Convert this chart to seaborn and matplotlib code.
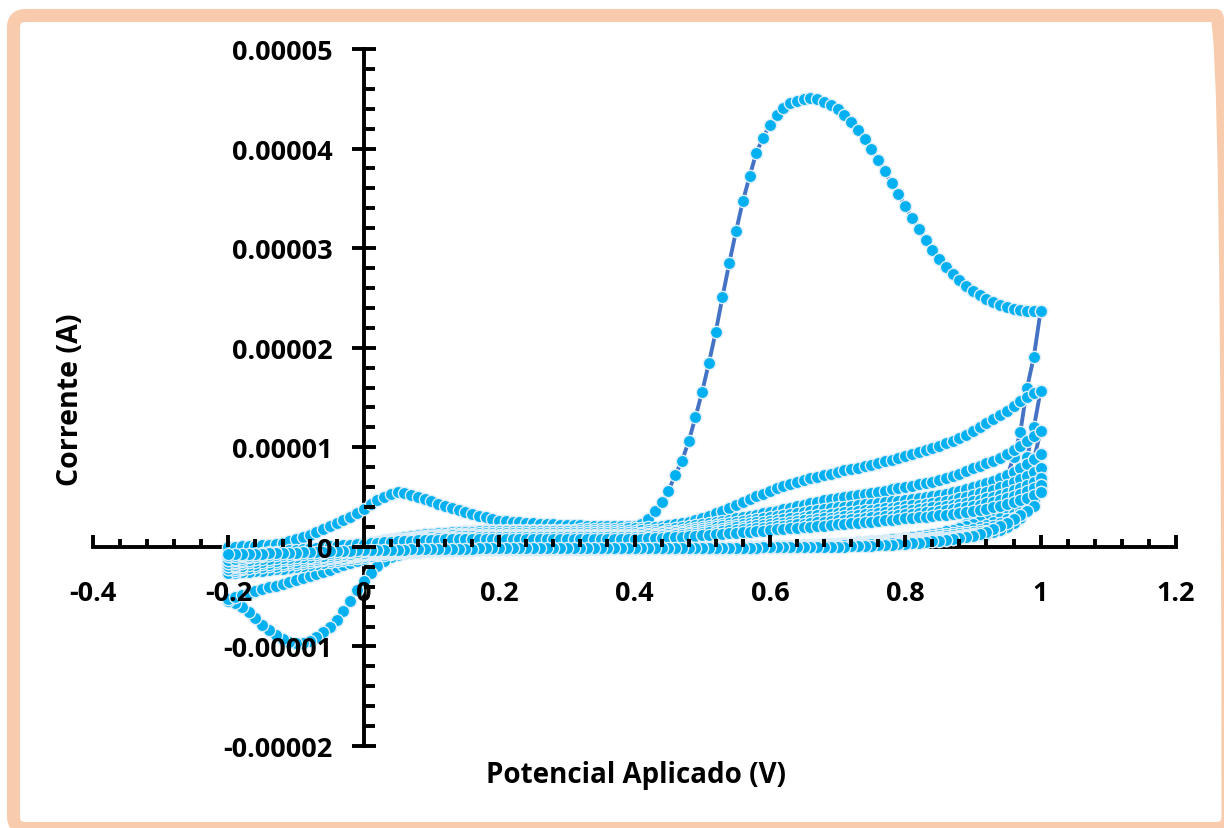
import numpy as np
import pandas as pd
import matplotlib
matplotlib.use("Agg")
import matplotlib.pyplot as plt
import seaborn as sns
from matplotlib.ticker import MultipleLocator, FuncFormatter
from matplotlib.patches import FancyBboxPatch
from matplotlib.transforms import IdentityTransform

# ---------------- data (potential sweep grid, V) ----------------
E_FORWARD = np.round(np.arange(121) * 0.01 - 0.20, 2)   # -0.20 ... 1.00 V, 10 mV steps
E_REVERSE = E_FORWARD[::-1]                              #  1.00 ... -0.20 V

# currents in microampere
F1 = [0.0, 0.0, 0.1, 0.1, 0.1, 0.2, 0.2, 0.3, 0.4, 0.6,
      0.8, 1.0, 1.2, 1.5, 1.8, 2.1, 2.4, 2.7, 3.0, 3.4,
      3.8, 4.3, 4.7, 5.0, 5.3, 5.5, 5.4, 5.2, 5.0, 4.8,
      4.6, 4.3, 4.1, 3.9, 3.7, 3.5, 3.3, 3.1, 3.0, 2.8,
      2.6, 2.6, 2.5, 2.5, 2.4, 2.4, 2.3, 2.3, 2.3, 2.2,
      2.2, 2.2, 2.2, 2.1, 2.1, 2.1, 2.1, 2.1, 2.1, 2.1,
      2.1, 2.3, 2.8, 3.6, 4.5, 5.6, 7.2, 8.6, 10.6, 13.0,
      15.6, 18.5, 21.6, 25.1, 28.5, 31.7, 34.7, 37.2, 39.6, 41.1,
      42.4, 43.4, 44.1, 44.6, 44.8, 45.0, 45.1, 45.0, 44.7, 44.4,
      44.0, 43.4, 42.7, 41.9, 41.0, 40.0, 38.9, 37.7, 36.5, 35.4,
      34.2, 33.0, 31.9, 30.8, 29.8, 28.9, 28.1, 27.4, 26.8, 26.2,
      25.7, 25.3, 24.9, 24.6, 24.3, 24.1, 23.9, 23.8, 23.7, 23.7,
      23.7]
R1 = [23.7, 19.1, 16.0, 11.5, 9.0, 7.0, 5.6, 4.6, 3.8, 3.2,
      2.7, 2.3, 2.0, 1.7, 1.5, 1.3, 1.1, 1.0, 0.9, 0.8,
      0.7, 0.6, 0.5, 0.5, 0.4, 0.4, 0.3, 0.3, 0.2, 0.2,
      0.2, 0.1, 0.1, 0.1, 0.1, 0.0, 0.0, 0.0, 0.0, 0.0,
      0.0, 0.0, -0.1, -0.1, -0.1, -0.1, -0.1, -0.1, -0.1, -0.1,
      -0.1, -0.1, -0.1, -0.1, -0.1, -0.1, -0.1, -0.1, -0.1, -0.1,
      -0.1, -0.1, -0.1, -0.1, -0.1, -0.1, -0.2, -0.2, -0.2, -0.2,
      -0.2, -0.2, -0.2, -0.2, -0.2, -0.2, -0.2, -0.2, -0.2, -0.2,
      -0.2, -0.2, -0.2, -0.2, -0.2, -0.3, -0.3, -0.3, -0.3, -0.3,
      -0.3, -0.3, -0.4, -0.5, -0.6, -0.8, -1.0, -1.4, -1.9, -2.6,
      -3.4, -4.3, -5.4, -6.4, -7.3, -8.0, -8.6, -9.1, -9.5, -9.7,
      -9.7, -9.6, -9.3, -8.9, -8.4, -7.8, -7.1, -6.5, -6.0, -5.6,
      -5.4]
F2 = [-5.2, -5.0, -4.8, -4.6, -4.4, -4.2, -4.0, -3.9, -3.7, -3.5,
      -3.3, -3.1, -2.9, -2.7, -2.5, -2.3, -2.0, -1.8, -1.6, -1.4,
      -1.2, -0.8, -0.4, 0.0, 0.3, 0.6, 0.8, 0.9, 1.1, 1.2,
      1.3, 1.4, 1.4, 1.5, 1.5, 1.6, 1.6, 1.6, 1.7, 1.7,
      1.7, 1.7, 1.7, 1.7, 1.7, 1.7, 1.7, 1.7, 1.7, 1.7,
      1.7, 1.7, 1.8, 1.8, 1.8, 1.8, 1.8, 1.8, 1.8, 1.9,
      1.9, 1.9, 2.0, 2.0, 2.1, 2.2, 2.3, 2.4, 2.5, 2.7,
      2.9, 3.1, 3.4, 3.6, 3.9, 4.2, 4.5, 4.8, 5.1, 5.3,
      5.6, 5.9, 6.1, 6.3, 6.5, 6.7, 6.9, 7.0, 7.2, 7.3,
      7.5, 7.7, 7.8, 7.9, 8.1, 8.2, 8.4, 8.6, 8.7, 8.9,
      9.1, 9.3, 9.5, 9.7, 9.9, 10.1, 10.4, 10.6, 10.9, 11.2,
      11.6, 12.0, 12.4, 12.8, 13.2, 13.6, 14.1, 14.6, 15.1, 15.5,
      15.7]
R2 = [15.7, 12.0, 9.0, 7.0, 5.6, 4.6, 3.8, 3.3, 2.9, 2.6,
      2.3, 2.1, 1.9, 1.7, 1.6, 1.4, 1.3, 1.2, 1.1, 1.0,
      0.9, 0.8, 0.8, 0.7, 0.6, 0.6, 0.5, 0.5, 0.4, 0.4,
      0.3, 0.3, 0.3, 0.2, 0.2, 0.2, 0.1, 0.1, 0.1, 0.1,
      0.0, 0.0, 0.0, 0.0, 0.0, -0.1, -0.1, -0.1, -0.1, -0.1,
      -0.1, -0.1, -0.1, -0.1, -0.1, -0.1, -0.1, -0.1, -0.1, -0.1,
      -0.1, -0.1, -0.1, -0.1, -0.1, -0.2, -0.2, -0.2, -0.2, -0.2,
      -0.2, -0.2, -0.2, -0.2, -0.2, -0.2, -0.2, -0.2, -0.2, -0.2,
      -0.2, -0.2, -0.2, -0.2, -0.3, -0.3, -0.3, -0.3, -0.3, -0.4,
      -0.4, -0.4, -0.5, -0.5, -0.6, -0.6, -0.7, -0.8, -0.8, -0.9,
      -1.0, -1.1, -1.2, -1.3, -1.4, -1.5, -1.6, -1.7, -1.8, -1.9,
      -2.0, -2.1, -2.2, -2.2, -2.3, -2.4, -2.4, -2.5, -2.5, -2.6,
      -2.6]
F3 = [-2.6, -2.4, -2.2, -2.0, -1.8, -1.7, -1.5, -1.4, -1.2, -1.1,
      -1.0, -0.8, -0.7, -0.6, -0.5, -0.3, -0.2, -0.1, 0.0, 0.1,
      0.2, 0.4, 0.5, 0.7, 0.8, 0.9, 1.0, 1.1, 1.2, 1.3,
      1.3, 1.4, 1.4, 1.5, 1.5, 1.5, 1.5, 1.6, 1.6, 1.6,
      1.6, 1.6, 1.6, 1.6, 1.6, 1.6, 1.6, 1.6, 1.6, 1.6,
      1.6, 1.6, 1.6, 1.6, 1.6, 1.6, 1.6, 1.6, 1.6, 1.6,
      1.6, 1.7, 1.7, 1.7, 1.8, 1.8, 1.9, 2.0, 2.1, 2.2,
      2.3, 2.4, 2.5, 2.6, 2.7, 2.9, 3.0, 3.1, 3.2, 3.4,
      3.5, 3.6, 3.8, 3.9, 4.1, 4.2, 4.4, 4.5, 4.7, 4.8,
      4.9, 5.0, 5.1, 5.2, 5.3, 5.4, 5.5, 5.6, 5.8, 5.9,
      6.0, 6.1, 6.3, 6.4, 6.5, 6.7, 6.9, 7.1, 7.3, 7.6,
      7.9, 8.1, 8.4, 8.6, 8.9, 9.3, 9.7, 10.1, 10.6, 11.1,
      11.6]
R3 = [11.6, 8.8, 6.6, 5.1, 4.1, 3.4, 2.9, 2.5, 2.2, 2.0,
      1.8, 1.6, 1.5, 1.4, 1.3, 1.2, 1.1, 1.0, 0.9, 0.8,
      0.8, 0.7, 0.6, 0.6, 0.5, 0.5, 0.4, 0.4, 0.3, 0.3,
      0.3, 0.2, 0.2, 0.2, 0.1, 0.1, 0.1, 0.1, 0.0, 0.0,
      0.0, 0.0, 0.0, 0.0, 0.0, -0.1, -0.1, -0.1, -0.1, -0.1,
      -0.1, -0.1, -0.1, -0.1, -0.1, -0.1, -0.1, -0.1, -0.1, -0.1,
      -0.1, -0.1, -0.1, -0.1, -0.1, -0.1, -0.1, -0.1, -0.1, -0.1,
      -0.1, -0.1, -0.1, -0.1, -0.1, -0.2, -0.2, -0.2, -0.2, -0.2,
      -0.2, -0.2, -0.2, -0.2, -0.2, -0.2, -0.3, -0.3, -0.3, -0.3,
      -0.3, -0.4, -0.4, -0.4, -0.5, -0.5, -0.6, -0.6, -0.7, -0.7,
      -0.8, -0.9, -1.0, -1.1, -1.2, -1.3, -1.3, -1.4, -1.5, -1.6,
      -1.7, -1.7, -1.8, -1.9, -1.9, -2.0, -2.0, -2.1, -2.1, -2.2,
      -2.2]
F4 = [-2.2, -2.0, -1.9, -1.7, -1.6, -1.4, -1.3, -1.2, -1.1, -0.9,
      -0.8, -0.7, -0.6, -0.5, -0.4, -0.3, -0.2, -0.1, 0.0, 0.1,
      0.2, 0.3, 0.4, 0.5, 0.6, 0.7, 0.8, 0.9, 1.0, 1.1,
      1.1, 1.2, 1.2, 1.3, 1.3, 1.3, 1.3, 1.4, 1.4, 1.4,
      1.4, 1.4, 1.4, 1.4, 1.4, 1.4, 1.4, 1.4, 1.4, 1.4,
      1.4, 1.4, 1.4, 1.4, 1.4, 1.4, 1.4, 1.4, 1.4, 1.4,
      1.4, 1.4, 1.5, 1.5, 1.5, 1.6, 1.6, 1.7, 1.8, 1.9,
      2.0, 2.1, 2.2, 2.3, 2.4, 2.5, 2.6, 2.7, 2.8, 2.9,
      3.0, 3.1, 3.2, 3.3, 3.4, 3.5, 3.6, 3.7, 3.8, 3.9,
      4.0, 4.0, 4.1, 4.2, 4.3, 4.3, 4.4, 4.5, 4.6, 4.6,
      4.7, 4.8, 4.9, 5.0, 5.1, 5.2, 5.3, 5.5, 5.6, 5.8,
      6.0, 6.2, 6.4, 6.6, 6.9, 7.2, 7.5, 7.9, 8.3, 8.8,
      9.3]
R4 = [9.3, 7.0, 5.3, 4.1, 3.3, 2.8, 2.4, 2.1, 1.9, 1.7,
      1.5, 1.4, 1.3, 1.2, 1.1, 1.0, 0.9, 0.8, 0.8, 0.7,
      0.7, 0.6, 0.6, 0.5, 0.5, 0.4, 0.4, 0.3, 0.3, 0.3,
      0.2, 0.2, 0.2, 0.1, 0.1, 0.1, 0.1, 0.0, 0.0, 0.0,
      0.0, 0.0, 0.0, 0.0, -0.1, -0.1, -0.1, -0.1, -0.1, -0.1,
      -0.1, -0.1, -0.1, -0.1, -0.1, -0.1, -0.1, -0.1, -0.1, -0.1,
      -0.1, -0.1, -0.1, -0.1, -0.1, -0.1, -0.1, -0.1, -0.1, -0.1,
      -0.1, -0.1, -0.1, -0.1, -0.1, -0.1, -0.2, -0.2, -0.2, -0.2,
      -0.2, -0.2, -0.2, -0.2, -0.2, -0.2, -0.2, -0.3, -0.3, -0.3,
      -0.3, -0.3, -0.4, -0.4, -0.4, -0.5, -0.5, -0.6, -0.6, -0.7,
      -0.7, -0.8, -0.9, -1.0, -1.0, -1.1, -1.2, -1.3, -1.3, -1.4,
      -1.5, -1.5, -1.6, -1.6, -1.7, -1.7, -1.8, -1.8, -1.9, -1.9,
      -1.9]
F5 = [-1.9, -1.8, -1.6, -1.5, -1.4, -1.3, -1.2, -1.0, -0.9, -0.8,
      -0.7, -0.6, -0.5, -0.4, -0.3, -0.2, -0.1, 0.0, 0.1, 0.2,
      0.3, 0.4, 0.5, 0.6, 0.7, 0.8, 0.8, 0.9, 1.0, 1.0,
      1.1, 1.1, 1.1, 1.2, 1.2, 1.2, 1.2, 1.2, 1.2, 1.2,
      1.2, 1.2, 1.2, 1.2, 1.2, 1.2, 1.2, 1.2, 1.2, 1.2,
      1.2, 1.2, 1.2, 1.2, 1.2, 1.2, 1.2, 1.2, 1.2, 1.2,
      1.2, 1.3, 1.3, 1.3, 1.4, 1.4, 1.5, 1.5, 1.6, 1.7,
      1.8, 1.9, 2.0, 2.1, 2.1, 2.2, 2.3, 2.4, 2.5, 2.5,
      2.6, 2.7, 2.8, 2.9, 2.9, 3.0, 3.1, 3.2, 3.2, 3.3,
      3.4, 3.5, 3.5, 3.6, 3.7, 3.7, 3.8, 3.9, 3.9, 4.0,
      4.1, 4.2, 4.2, 4.3, 4.4, 4.5, 4.6, 4.7, 4.9, 5.0,
      5.2, 5.4, 5.5, 5.7, 6.0, 6.2, 6.5, 6.8, 7.1, 7.5,
      7.9]
R5 = [7.9, 6.0, 4.6, 3.6, 2.9, 2.4, 2.1, 1.8, 1.6, 1.5,
      1.3, 1.2, 1.1, 1.0, 0.9, 0.9, 0.8, 0.7, 0.7, 0.6,
      0.6, 0.5, 0.5, 0.4, 0.4, 0.4, 0.3, 0.3, 0.3, 0.2,
      0.2, 0.2, 0.1, 0.1, 0.1, 0.1, 0.0, 0.0, 0.0, 0.0,
      0.0, 0.0, 0.0, -0.1, -0.1, -0.1, -0.1, -0.1, -0.1, -0.1,
      -0.1, -0.1, -0.1, -0.1, -0.1, -0.1, -0.1, -0.1, -0.1, -0.1,
      -0.1, -0.1, -0.1, -0.1, -0.1, -0.1, -0.1, -0.1, -0.1, -0.1,
      -0.1, -0.1, -0.1, -0.1, -0.1, -0.1, -0.1, -0.2, -0.2, -0.2,
      -0.2, -0.2, -0.2, -0.2, -0.2, -0.2, -0.2, -0.2, -0.3, -0.3,
      -0.3, -0.3, -0.3, -0.4, -0.4, -0.4, -0.5, -0.5, -0.6, -0.6,
      -0.6, -0.7, -0.8, -0.8, -0.9, -1.0, -1.0, -1.1, -1.1, -1.2,
      -1.2, -1.3, -1.3, -1.4, -1.4, -1.5, -1.5, -1.5, -1.6, -1.6,
      -1.6]
F6 = [-1.6, -1.5, -1.4, -1.3, -1.2, -1.1, -1.0, -0.9, -0.8, -0.7,
      -0.6, -0.5, -0.4, -0.3, -0.2, -0.1, 0.0, 0.1, 0.2, 0.3,
      0.4, 0.4, 0.5, 0.6, 0.7, 0.7, 0.8, 0.8, 0.9, 0.9,
      1.0, 1.0, 1.0, 1.0, 1.1, 1.1, 1.1, 1.1, 1.1, 1.1,
      1.1, 1.1, 1.1, 1.1, 1.1, 1.1, 1.1, 1.1, 1.1, 1.1,
      1.1, 1.1, 1.1, 1.1, 1.1, 1.1, 1.1, 1.1, 1.1, 1.1,
      1.1, 1.1, 1.2, 1.2, 1.2, 1.3, 1.3, 1.4, 1.4, 1.5,
      1.6, 1.7, 1.7, 1.8, 1.9, 2.0, 2.0, 2.1, 2.2, 2.2,
      2.3, 2.4, 2.4, 2.5, 2.6, 2.7, 2.7, 2.8, 2.9, 2.9,
      3.0, 3.1, 3.1, 3.2, 3.3, 3.3, 3.4, 3.5, 3.5, 3.6,
      3.7, 3.7, 3.8, 3.9, 4.0, 4.0, 4.1, 4.2, 4.3, 4.4,
      4.6, 4.7, 4.9, 5.0, 5.2, 5.4, 5.7, 5.9, 6.2, 6.5,
      6.9]
R6 = [6.9, 5.3, 4.1, 3.2, 2.6, 2.2, 1.9, 1.6, 1.4, 1.3,
      1.2, 1.1, 1.0, 0.9, 0.8, 0.8, 0.7, 0.6, 0.6, 0.5,
      0.5, 0.5, 0.4, 0.4, 0.3, 0.3, 0.3, 0.2, 0.2, 0.2,
      0.2, 0.1, 0.1, 0.1, 0.1, 0.0, 0.0, 0.0, 0.0, 0.0,
      0.0, 0.0, 0.0, -0.1, -0.1, -0.1, -0.1, -0.1, -0.1, -0.1,
      -0.1, -0.1, -0.1, -0.1, -0.1, -0.1, -0.1, -0.1, -0.1, -0.1,
      -0.1, -0.1, -0.1, -0.1, -0.1, -0.1, -0.1, -0.1, -0.1, -0.1,
      -0.1, -0.1, -0.1, -0.1, -0.1, -0.1, -0.1, -0.1, -0.2, -0.2,
      -0.2, -0.2, -0.2, -0.2, -0.2, -0.2, -0.2, -0.2, -0.2, -0.3,
      -0.3, -0.3, -0.3, -0.3, -0.4, -0.4, -0.4, -0.5, -0.5, -0.5,
      -0.6, -0.6, -0.7, -0.7, -0.8, -0.8, -0.9, -0.9, -1.0, -1.0,
      -1.0, -1.1, -1.1, -1.1, -1.2, -1.2, -1.2, -1.3, -1.3, -1.3,
      -1.3]
F7 = [-1.3, -1.2, -1.1, -1.0, -0.9, -0.9, -0.8, -0.7, -0.6, -0.5,
      -0.5, -0.4, -0.3, -0.2, -0.1, 0.0, 0.0, 0.1, 0.2, 0.3,
      0.3, 0.4, 0.4, 0.5, 0.6, 0.6, 0.7, 0.7, 0.8, 0.8,
      0.8, 0.9, 0.9, 0.9, 0.9, 0.9, 0.9, 1.0, 1.0, 1.0,
      1.0, 1.0, 1.0, 1.0, 1.0, 1.0, 1.0, 1.0, 1.0, 1.0,
      1.0, 1.0, 1.0, 1.0, 1.0, 1.0, 1.0, 1.0, 1.0, 1.0,
      1.0, 1.0, 1.0, 1.1, 1.1, 1.1, 1.2, 1.2, 1.3, 1.3,
      1.4, 1.5, 1.5, 1.6, 1.7, 1.7, 1.8, 1.8, 1.9, 1.9,
      2.0, 2.1, 2.1, 2.2, 2.3, 2.3, 2.4, 2.5, 2.5, 2.6,
      2.7, 2.7, 2.8, 2.8, 2.9, 3.0, 3.0, 3.1, 3.1, 3.2,
      3.3, 3.3, 3.4, 3.5, 3.5, 3.6, 3.7, 3.8, 3.9, 4.0,
      4.1, 4.2, 4.4, 4.5, 4.7, 4.9, 5.1, 5.3, 5.6, 5.9,
      6.2]
R7 = [6.2, 4.8, 3.7, 2.9, 2.4, 2.0, 1.7, 1.5, 1.3, 1.2,
      1.1, 1.0, 0.9, 0.8, 0.7, 0.7, 0.6, 0.6, 0.5, 0.5,
      0.4, 0.4, 0.4, 0.3, 0.3, 0.3, 0.2, 0.2, 0.2, 0.2,
      0.1, 0.1, 0.1, 0.1, 0.0, 0.0, 0.0, 0.0, 0.0, 0.0,
      0.0, 0.0, -0.1, -0.1, -0.1, -0.1, -0.1, -0.1, -0.1, -0.1,
      -0.1, -0.1, -0.1, -0.1, -0.1, -0.1, -0.1, -0.1, -0.1, -0.1,
      -0.1, -0.1, -0.1, -0.1, -0.1, -0.1, -0.1, -0.1, -0.1, -0.1,
      -0.1, -0.1, -0.1, -0.1, -0.1, -0.1, -0.1, -0.1, -0.1, -0.1,
      -0.1, -0.1, -0.1, -0.2, -0.2, -0.2, -0.2, -0.2, -0.2, -0.2,
      -0.2, -0.2, -0.2, -0.3, -0.3, -0.3, -0.3, -0.4, -0.4, -0.4,
      -0.4, -0.5, -0.5, -0.5, -0.6, -0.6, -0.6, -0.7, -0.7, -0.7,
      -0.7, -0.8, -0.8, -0.8, -0.8, -0.8, -0.9, -0.9, -0.9, -0.9,
      -0.9]
F8 = [-0.9, -0.9, -0.8, -0.7, -0.7, -0.6, -0.5, -0.5, -0.4, -0.3,
      -0.3, -0.2, -0.1, -0.1, 0.0, 0.1, 0.1, 0.2, 0.2, 0.3,
      0.3, 0.4, 0.4, 0.5, 0.5, 0.6, 0.6, 0.6, 0.7, 0.7,
      0.7, 0.7, 0.8, 0.8, 0.8, 0.8, 0.8, 0.8, 0.8, 0.8,
      0.8, 0.8, 0.8, 0.8, 0.8, 0.8, 0.8, 0.8, 0.8, 0.8,
      0.8, 0.8, 0.8, 0.8, 0.8, 0.8, 0.8, 0.8, 0.8, 0.8,
      0.8, 0.8, 0.9, 0.9, 0.9, 1.0, 1.0, 1.0, 1.1, 1.1,
      1.2, 1.2, 1.3, 1.3, 1.4, 1.4, 1.5, 1.5, 1.6, 1.6,
      1.7, 1.8, 1.8, 1.9, 1.9, 2.0, 2.0, 2.1, 2.1, 2.2,
      2.3, 2.3, 2.4, 2.4, 2.5, 2.5, 2.6, 2.7, 2.7, 2.8,
      2.9, 2.9, 3.0, 3.0, 3.1, 3.2, 3.2, 3.3, 3.4, 3.5,
      3.6, 3.7, 3.8, 4.0, 4.1, 4.3, 4.5, 4.7, 4.9, 5.2,
      5.5]
R8 = [5.5, 4.1, 3.6, 3.2, 2.8, 2.4, 2.1, 1.8, 1.5, 1.3,
      1.1, 1.0, 0.9, 0.8, 0.7, 0.6, 0.6, 0.5, 0.4, 0.4,
      0.3, 0.3, 0.2, 0.2, 0.2, 0.1, 0.1, 0.1, 0.1, 0.0,
      0.0, 0.0, 0.0, 0.0, 0.0, 0.0, 0.0, 0.0, 0.0, 0.0,
      0.0, 0.0, -0.1, -0.1, -0.1, -0.1, -0.1, -0.1, -0.1, -0.1,
      -0.1, -0.1, -0.1, -0.1, -0.1, -0.1, -0.1, -0.1, -0.1, -0.1,
      -0.1, -0.1, -0.1, -0.1, -0.1, -0.1, -0.1, -0.1, -0.1, -0.1,
      -0.1, -0.1, -0.1, -0.1, -0.1, -0.1, -0.1, -0.1, -0.1, -0.1,
      -0.1, -0.1, -0.1, -0.1, -0.2, -0.2, -0.2, -0.2, -0.2, -0.2,
      -0.2, -0.2, -0.2, -0.2, -0.3, -0.3, -0.3, -0.3, -0.3, -0.3,
      -0.3, -0.3, -0.4, -0.4, -0.4, -0.4, -0.5, -0.5, -0.5, -0.5,
      -0.6, -0.6, -0.6, -0.6, -0.6, -0.7, -0.7, -0.7, -0.7, -0.7,
      -0.7]

SWEEPS = [F1, R1, F2, R2, F3, R3, F4, R4, F5, R5, F6, R6, F7, R7, F8, R8]

X_TICKS = [-0.4, -0.2, 0, 0.2, 0.4, 0.6, 0.8, 1, 1.2]
Y_TICKS = [-0.00002, -0.00001, 0, 0.00001, 0.00002, 0.00003, 0.00004, 0.00005]
X_LABEL = "Potencial Aplicado (V)"
Y_LABEL = "Corrente (A)"

# ---------------- build long table ----------------
frames = []
for k, vals in enumerate(SWEEPS):
    e = E_FORWARD if k % 2 == 0 else E_REVERSE
    frames.append(pd.DataFrame({"E": e, "I": np.asarray(vals) * 1e-6}))
df = pd.concat(frames, ignore_index=True)

# ---------------- style ----------------
sns.set_style("white")
plt.rcParams["font.family"] = ["Open Sans", "DejaVu Sans"]
plt.rcParams["font.weight"] = "bold"

W, H, DPI = 1224, 829, 100
fig = plt.figure(figsize=(W / DPI, H / DPI), dpi=DPI)
fig.patch.set_facecolor("white")

# peach rounded frame
frame = FancyBboxPatch((13.5, -0.5), 1228 - 13.5, 813.0,
                       boxstyle="round,pad=0,rounding_size=12",
                       linewidth=9.4, edgecolor="#F8CBAD", facecolor="none",
                       transform=IdentityTransform(), zorder=0)
fig.patches.append(frame)

ax = fig.add_axes([93 / W, 1 - 747 / H, (1176 - 93) / W, (747 - 50) / H])
ax.set_facecolor("none")

sns.lineplot(data=df, x="E", y="I", sort=False, estimator=None, ax=ax,
             color="#4472C4", linewidth=2.8, marker="o", markersize=8.8,
             markerfacecolor="#00B0F0", markeredgecolor="#DDEEFA",
             markeredgewidth=1.0, zorder=3, legend=False)

ax.set_xlim(X_TICKS[0], X_TICKS[-1])
ax.set_ylim(Y_TICKS[0], Y_TICKS[-1])
ax.set_xlabel("")
ax.set_ylabel("")

for s in ["top", "right"]:
    ax.spines[s].set_visible(False)
for s in ["left", "bottom"]:
    ax.spines[s].set_position(("data", 0))
    ax.spines[s].set_linewidth(2.8)
    ax.spines[s].set_color("black")
    ax.spines[s].set_zorder(1)

ax.xaxis.set_major_locator(plt.FixedLocator(X_TICKS))
ax.xaxis.set_minor_locator(MultipleLocator(0.04))
ax.yaxis.set_major_locator(plt.FixedLocator(Y_TICKS))
ax.yaxis.set_minor_locator(MultipleLocator(0.000002))

def xfmt(v, pos):
    if abs(v) < 1e-9:
        return "0"
    return f"{v:g}"

def yfmt(v, pos):
    if abs(v) < 1e-12:
        return "0"
    return f"{v:.5f}"

ax.xaxis.set_major_formatter(FuncFormatter(xfmt))
ax.yaxis.set_major_formatter(FuncFormatter(yfmt))

ax.tick_params(axis="x", which="both", bottom=True, top=False)
ax.tick_params(axis="y", which="both", left=True, right=False)
ax.tick_params(axis="x", which="major", direction="in", length=9, width=2.8,
               pad=24, labelsize=19.5, colors="black")
ax.tick_params(axis="x", which="minor", direction="in", length=6, width=2.8,
               colors="black")
ax.tick_params(axis="y", which="major", direction="inout", length=17, width=2.8,
               pad=14, labelsize=19.5, colors="black")
ax.tick_params(axis="y", which="minor", direction="in", length=8, width=2.8,
               colors="black")
for lab in ax.get_xticklabels() + ax.get_yticklabels():
    lab.set_fontweight("bold")
ax.xaxis.set_zorder(4)
ax.yaxis.set_zorder(4)
ax.grid(False)

fig.text(636 / W, 1 - 776 / H, X_LABEL, ha="center", va="center",
         fontsize=20, fontweight="bold", color="black")
fig.text(70 / W, 1 - 400 / H, Y_LABEL, ha="center", va="center",
         rotation=90, fontsize=20.5, fontweight="bold", color="black")

fig.savefig("out.png", dpi=DPI, facecolor="white")
